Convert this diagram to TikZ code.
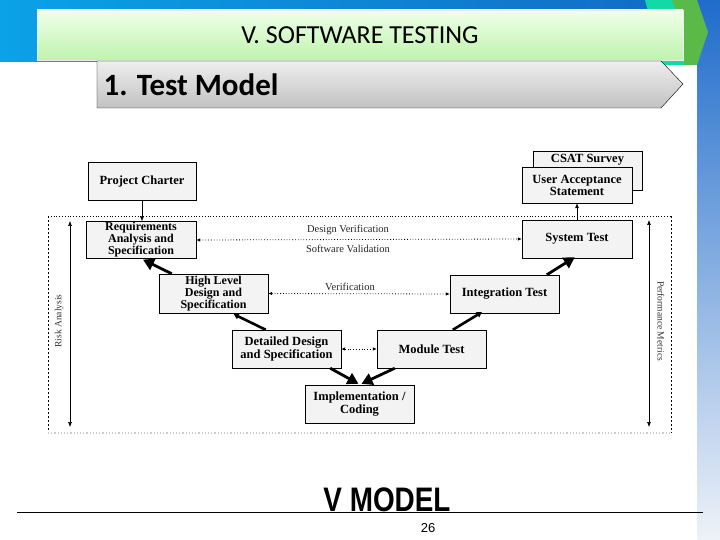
\documentclass[tikz,border=0pt]{standalone}
\usepackage{fontspec}
\setmainfont{Liberation Serif}
\newfontfamily\calfont{Carlito}
\newfontfamily\arialfont{Liberation Sans}
\usetikzlibrary{arrows.meta,positioning,calc}
\definecolor{bandleft}{HTML}{0AA2E8}
\definecolor{bandright}{HTML}{1268C2}
\definecolor{bartop}{HTML}{1F6CCB}
\definecolor{barbot}{HTML}{EEF2F8}
\definecolor{tealdeco}{HTML}{12D9A6}
\definecolor{greendeco}{HTML}{5BB947}
\definecolor{hdtop}{HTML}{F0FFEA}
\definecolor{hdbot}{HTML}{BFF3AE}
\definecolor{pentop}{HTML}{EEEEEE}
\definecolor{penbot}{HTML}{C2C2C2}
\definecolor{boxgray}{HTML}{F3F3F3}

\begin{document}
\begin{tikzpicture}[x=1pt,y=-1pt,
      vbox/.style={draw,fill=boxgray,minimum width=110pt,minimum height=38pt,inner sep=1pt,
        align=center,font=\fontsize{12.5}{10.3}\selectfont\bfseries},
      tribox/.style={vbox,font=\fontsize{12}{9.8}\selectfont\bfseries},
      lbl/.style={font=\fontsize{10.5}{12}\selectfont,text=black!85},
      side/.style={font=\fontsize{9.5}{10}\selectfont,text=black!80},
      dotarr/.style={dotted,line width=0.8pt,{Latex[length=4pt,width=3.5pt]}-{Latex[length=4pt,width=3.5pt]}},
      thk/.style={line width=2.8pt,-{Triangle[length=11pt,width=12pt]}},
      thksm/.style={line width=2.6pt,-{Triangle[length=5pt,width=6pt]}},
      thn/.style={-{Latex[length=5pt,width=4pt]},semithick}]
    \useasboundingbox (0,0) rectangle (720,540);
    \fill[white] (0,0) rectangle (720,540);
    \fill[left color=bandleft,right color=bandright] (0,0) rectangle (720,62);
    \fill[top color=bartop,bottom color=barbot] (697,0) rectangle (720,540);
    \fill[tealdeco] (645,0) -- (682,0) -- (697,34) -- (697,65) -- (662,65) -- cycle;
    \fill[greendeco] (672,0) -- (697,0) -- (708,32) -- (697,65) -- (684,65) -- (684,30) -- cycle;
    \node[draw=white!85!gray,top color=hdtop,bottom color=hdbot,minimum width=646pt,
      minimum height=50pt,inner sep=0pt,font=\calfont\fontsize{26}{28}\selectfont] (title)
      at (360,35) {V. SOFTWARE TESTING};
    \draw[top color=pentop,bottom color=penbot,thin] (97,61) -- (661,61) -- (683,84)
      -- (661,108) -- (97,108) -- cycle;
    \node[anchor=west,font=\calfont\bfseries\fontsize{31}{34}\selectfont] (sub)
      at (100,85) {1. Test Model};

    \draw[dotted,line width=0.8pt] (48,216) -- (671,216);
    \draw[dash pattern=on 2pt off 2pt,semithick] (48,216) -- (48,433);
    \draw[dash pattern=on 2pt off 2pt,semithick] (671,216) -- (671,433);
    \draw[dotted,line width=1.2pt,black!20] (48,433) -- (671,433);

    \node[vbox,minimum width=109pt,text height=8pt,text depth=25pt,inner ysep=3pt,anchor=north]
      (csat) at (587.5,151) {CSAT Survey};
    \node[vbox,minimum height=36pt] (uas) at (577,185) {User Acceptance\\Statement};
    \node[vbox,minimum width=108pt] (charter) at (142,181) {Project Charter};
    \node[tribox,minimum height=36pt] (req) at (141,240) {Requirements\\Analysis and\\Specification};
    \node[vbox] (sys) at (577,239) {System Test};
    \node[tribox,minimum width=109pt,minimum height=39pt] (hld) at (213.5,293.5)
      {High Level\\Design and\\Specification};
    \node[vbox,minimum width=109pt] (integ) at (504.5,294) {Integration Test};
    \node[vbox,minimum width=109pt] (ddes) at (286.5,349) {Detailed Design\\and Specification};
    \node[vbox,minimum width=109pt] (modt) at (431.5,349) {Module Test};
    \node[vbox,minimum width=109pt] (impl) at (359.5,404) {Implementation /\\Coding};

    \draw[thn] (charter.south) -- (charter.south |- req.north);
    \draw[thn] (sys) -- (uas);

    \draw[dotarr] (req.east) -- (sys.west);
    \draw[dotarr] (hld.east) -- (integ.west);
    \draw[dotarr] (ddes.east) -- (modt.west);
    \node[lbl] (dv) at (348,230) {Design Verification};
    \node[lbl] (sv) at (348,249) {Software Validation};
    \node[lbl] (ver) at (350,287) {Verification};

    \draw[thk] ($(hld.north west)+(13,0)$) -- ($(req.south)+(2,1)$);
    \draw[thksm] ($(ddes.north west)+(34,0)$) -- ($(hld.south west)+(75,1)$);
    \draw[thk] ($(ddes.south east)+(-11,0)$) -- ($(impl.north)+(-1,-1)$);
    \draw[thk] ($(modt.south west)+(18,0)$) -- ($(impl.north)+(2,-1)$);
    \draw[thksm] ($(modt.north west)+(76,0)$) -- ($(integ.south west)+(32,-1)$);
    \draw[thk] ($(integ.north west)+(97,0)$) -- ($(sys.south west)+(53,-1)$);

    \coordinate (ltop) at (70,221);
    \coordinate (lbot) at (70,427);
    \coordinate (rtop) at (649,220);
    \coordinate (rbot) at (649,427);
    \draw[thn,{Latex[length=5pt,width=4pt]}-{Latex[length=5pt,width=4pt]}] (ltop) -- (lbot);
    \draw[thn,{Latex[length=5pt,width=4pt]}-{Latex[length=5pt,width=4pt]}] (rtop) -- (rbot);
    \node[side,rotate=90] (risk) at (59,321) {Risk Analysis};
    \node[side,rotate=-90] (perf) at (661,321) {Performance Metrics};

    \draw[semithick] (17,512) -- (703,512);
    \node[anchor=base,xscale=0.82,transform shape,inner sep=0pt,
      font=\arialfont\bfseries\fontsize{34}{36}\selectfont] (vm) at (387,511) {V MODEL};
    \node[font=\arialfont\fontsize{13}{14}\selectfont] (pg) at (428,528) {26};
  \end{tikzpicture}
\end{document}
